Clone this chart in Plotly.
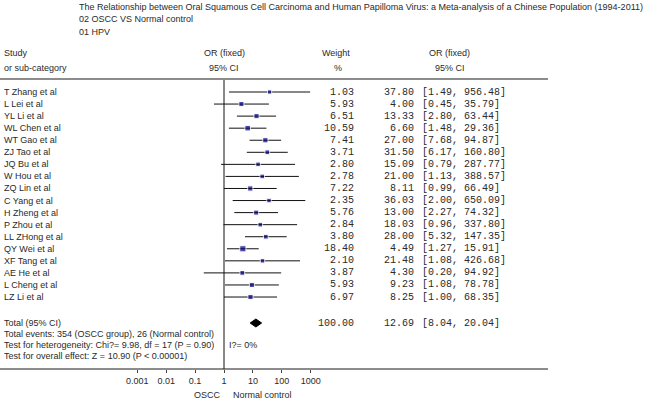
import plotly.graph_objects as go

title_lines = [
    "The Relationship between Oral Squamous Cell Carcinoma and Human Papilloma Virus: a Meta-analysis of a Chinese Population (1994-2011)",
    "02 OSCC VS Normal control",
    "01 HPV",
]
studies = ["T Zhang et al", "L Lei et al", "YL Li et al", "WL Chen et al", "WT Gao et al",
           "ZJ Tao et al", "JQ Bu et al", "W Hou et al", "ZQ Lin et al", "C Yang et al",
           "H Zheng et al", "P Zhou et al", "LL ZHong et al", "QY Wei et al", "XF Tang et al",
           "AE He et al", "L Cheng et al", "LZ Li et al"]
weights = [1.03, 5.93, 6.51, 10.59, 7.41, 3.71, 2.80, 2.78, 7.22, 2.35,
           5.76, 2.84, 3.80, 18.40, 2.10, 3.87, 5.93, 6.97]
odds = [37.80, 4.00, 13.33, 6.60, 27.00, 31.50, 15.09, 21.00, 8.11, 36.03,
        13.00, 18.03, 28.00, 4.49, 21.48, 4.30, 9.23, 8.25]
ci_low = [1.49, 0.45, 2.80, 1.48, 7.68, 6.17, 0.79, 1.13, 0.99, 2.00,
          2.27, 0.96, 5.32, 1.27, 1.08, 0.20, 1.08, 1.00]
ci_high = [956.48, 35.79, 63.44, 29.36, 94.87, 160.80, 287.77, 388.57, 66.49, 650.09,
           74.32, 337.80, 147.35, 15.91, 426.68, 94.92, 78.78, 68.35]
total = {"weight": 100.00, "or": 12.69, "low": 8.04, "high": 20.04}
footer = [
    "Total events: 354 (OSCC group), 26 (Normal control)",
    "Test for heterogeneity: Chi?= 9.98, df = 17 (P = 0.90)",
    "Test for overall effect: Z = 10.90 (P < 0.00001)",
]
tick_vals = [0.001, 0.01, 0.1, 1, 10, 100, 1000]
tick_text = ["0.001", "0.01", "0.1", "1", "10", "100", "1000"]

W, H = 660, 402
# pixel layout helpers
ROW0, ROWH = 92, 12.06
X1, DEC = 224, 28.9


def row_of(py):
    return (py - ROW0) / ROWH


def px(p):
    return p / W


SANS = "Liberation Sans, Arial"
MONO = "Liberation Mono, Courier New"
TXT = "#2a2a2a"

fig = go.Figure()

rows = list(range(len(studies)))
total_row = row_of(323)

# CI lines
xs, ys = [], []
for i in rows:
    xs += [ci_low[i], ci_high[i], None]
    ys += [i, i, None]
fig.add_trace(go.Scatter(x=xs, y=ys, mode="lines", line=dict(color="#111111", width=1),
                         hoverinfo="skip", showlegend=False))
# squares
fig.add_trace(go.Scatter(x=odds, y=rows, mode="markers",
                         marker=dict(symbol="square", color="#00007F",
                                     size=[3.6 + 0.6 * w ** 0.5 for w in weights]),
                         showlegend=False))
# total diamond
dh = 4 / ROWH
fig.add_trace(go.Scatter(x=[total["low"], total["or"], total["high"], total["or"], total["low"]],
                         y=[total_row, total_row - dh, total_row, total_row + dh, total_row],
                         mode="lines", fill="toself", fillcolor="black",
                         line=dict(color="black", width=1), showlegend=False))

ann = []


def text(x, y, s, anchor="left", font=SANS, size=9, yref="y"):
    ann.append(dict(x=px(x), y=y, xref="paper", yref=yref, text=s, showarrow=False,
                    xanchor=anchor, yanchor="middle",
                    font=dict(family=font, size=size, color=TXT)))


# title
for s, py in zip(title_lines, [7, 19, 32]):
    text(77, row_of(py), s)
# headers
text(2, row_of(53), "Study")
text(2, row_of(68), "or sub-category")
text(224, row_of(53), "OR (fixed)", "center")
text(224, row_of(68), "95% CI", "center")
text(336, row_of(53), "Weight", "center")
text(338, row_of(68), "%", "center")
text(450, row_of(53), "OR (fixed)", "center")
text(450, row_of(68), "95% CI", "center")

for i in rows:
    text(2, i, studies[i])
    text(356, i, f"{weights[i]:.2f}", "right", MONO, 10)
    text(416, i, f"{odds[i]:.2f}", "right", MONO, 10)
    text(420, i, f"[{ci_low[i]:.2f}, {ci_high[i]:.2f}]", "left", MONO, 10)

text(2, total_row, "Total (95% CI)")
text(356, total_row, f"{total['weight']:.2f}", "right", MONO, 10)
text(416, total_row, f"{total['or']:.2f}", "right", MONO, 10)
text(420, total_row, f"[{total['low']:.2f}, {total['high']:.2f}]", "left", MONO, 10)

for s, py in zip(footer, [334, 345, 356]):
    text(2, row_of(py), s)
text(227, row_of(345), "I?= 0%")

text(207, row_of(395), "OSCC", "center")
text(262, row_of(395), "Normal control", "center")

shapes = [
    dict(type="line", xref="paper", yref="y", x0=0, x1=px(548), y0=row_of(79), y1=row_of(79),
         line=dict(color="#666666", width=1.6)),
    dict(type="line", xref="paper", yref="y", x0=0, x1=px(548), y0=row_of(369), y1=row_of(369),
         line=dict(color="#666666", width=1.6)),
    dict(type="line", xref="x", yref="y", x0=1, x1=1, y0=row_of(80), y1=row_of(369),
         line=dict(color="#111111", width=1)),
]

fig.update_layout(
    width=W, height=H,
    margin=dict(l=0, r=0, t=0, b=0),
    paper_bgcolor="white", plot_bgcolor="white",
    annotations=ann, shapes=shapes,
    xaxis=dict(type="log", range=[(0 - X1) / DEC, (W - X1) / DEC], domain=[0, 1],
               anchor="free", position=1 - 369 / H,
               tickvals=tick_vals, ticktext=tick_text, ticks="outside", ticklen=3,
               tickcolor="#444444", showline=False, showgrid=False, zeroline=False,
               tickfont=dict(family=SANS, size=9, color=TXT)),
    yaxis=dict(range=[row_of(H), row_of(0)], domain=[0, 1], visible=False,
               showgrid=False, zeroline=False),
)

# drop the default body margin so the figure sits at the page corner
fig.write_html("out.html", config={"displayModeBar": False},
               post_script="document.body.style.margin='0';")
